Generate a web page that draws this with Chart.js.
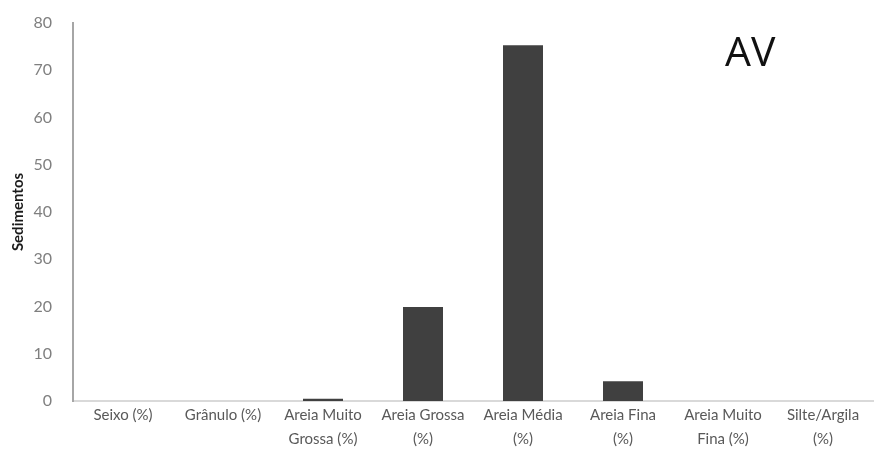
<!DOCTYPE html>
<html>
<head>
<meta charset="utf-8">
<script src="https://cdn.jsdelivr.net/npm/chart.js@4"></script>
<style>
  body { margin: 0; background: #fff; }
  #wrap { position: relative; width: 877px; height: 462px; }
  #tag { position: absolute; left: 725px; top: 22px; font: 41px "Open Sans", sans-serif; color: #111; }
</style>
</head>
<body>
<div id="wrap">
  <canvas id="chart" width="877" height="462"></canvas>
  <div id="tag">AV</div>
</div>
<script>
// sediment fractions, station AV
const categories = [
  'Seixo (%)',
  'Grânulo (%)',
  ['Areia Muito', 'Grossa (%)'],
  ['Areia Grossa', '(%)'],
  ['Areia Média', '(%)'],
  ['Areia Fina', '(%)'],
  ['Areia Muito', 'Fina (%)'],
  ['Silte/Argila', '(%)']
];
const values = [0, 0, 0.5, 19.9, 75.3, 4.2, 0, 0];
const yTicks = [0, 10, 20, 30, 40, 50, 60, 70, 80];

const ctx = document.getElementById('chart').getContext('2d');
new Chart(ctx, {
  type: 'bar',
  data: {
    labels: categories,
    datasets: [{
      label: 'Sedimentos',
      data: values,
      backgroundColor: '#404040',
      categoryPercentage: 1,
      barPercentage: 0.4,
    }]
  },
  options: {
    responsive: false,
    animation: false,
    layout: { padding: { top: 23, right: 4, left: 0, bottom: 0 } },
    plugins: {
      legend: { display: false },
      tooltip: { enabled: false },
    },
    scales: {
      x: {
        grid: { display: false },
        border: { display: true, color: '#d9d9d9', width: 2 },
        ticks: {
          color: '#595959',
          font: { family: 'Lato', size: 15, lineHeight: 1.55 },
          padding: -5,
          maxRotation: 0,
          autoSkip: false,
        },
        afterFit: (scale) => { scale.height = 61; },
      },
      y: {
        min: 0,
        max: 80,
        afterBuildTicks: (scale) => { scale.ticks = yTicks.map(v => ({ value: v })); },
        grid: { display: false },
        border: { display: true, color: '#a6a6a6', width: 2 },
        ticks: {
          color: '#7f7f7f',
          font: { family: 'Lato', size: 16 },
          padding: 13,
        },
        title: {
          display: true,
          text: 'Sedimentos',
          color: '#1a1a1a',
          font: { family: 'Lato', size: 15, weight: 'bold' },
          padding: { top: 9, bottom: 0 },
        },
        afterFit: (scale) => { scale.width = 73; },
      },
    },
  },
});
</script>
</body>
</html>
